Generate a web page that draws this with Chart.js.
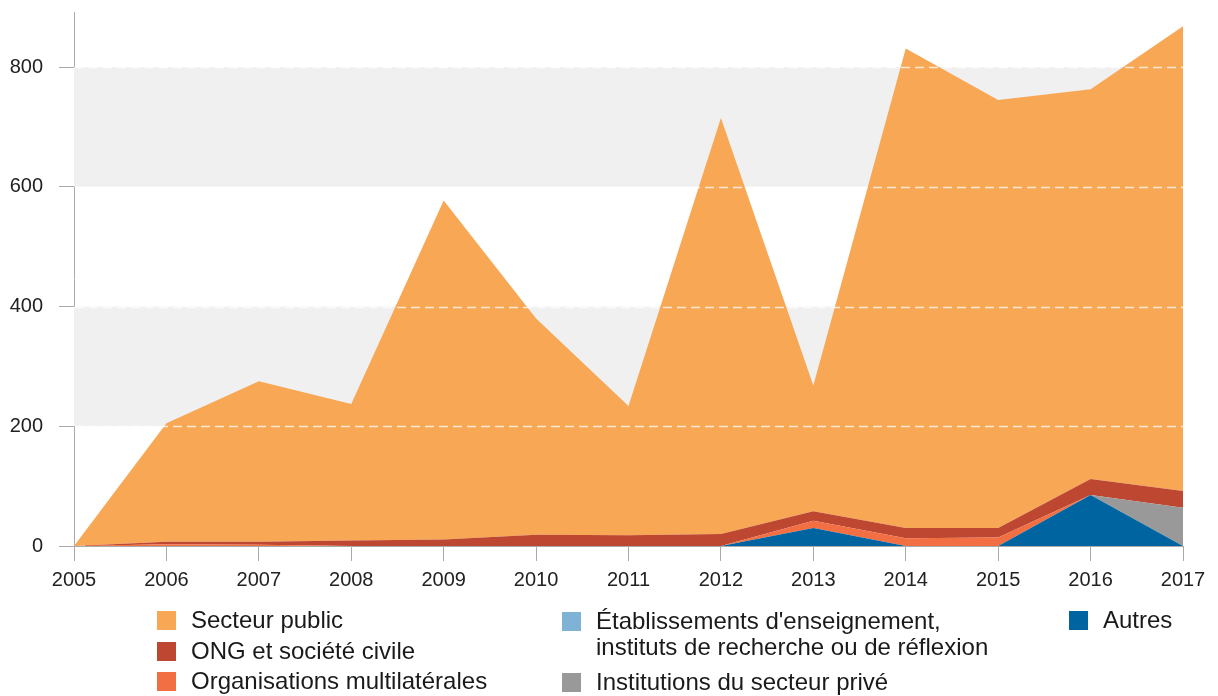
<!DOCTYPE html>
<html>
<head>
<meta charset="utf-8">
<script src="https://cdn.jsdelivr.net/npm/chart.js@4"></script>
<style>
  body { margin: 0; background: #fff; }
  #wrap { position: relative; width: 1218px; height: 696px; font-family: "Liberation Sans", Arial, sans-serif; color: #1a1a1a; }
  #myChart { position: absolute; left: 0; top: 0; }
  .sq { position: absolute; width: 19px; height: 19px; }
  .lb { position: absolute; font-size: 24px; line-height: 26px; white-space: nowrap; }
</style>
</head>
<body>
<div id="wrap">
  <canvas id="myChart" width="1218" height="696"></canvas>
  <div class="sq" style="left:157px;top:611px;background:#f8a755"></div>
  <div class="lb" style="left:191px;top:607px">Secteur public</div>
  <div class="sq" style="left:157px;top:642px;background:#bd4731"></div>
  <div class="lb" style="left:191px;top:638px">ONG et société civile</div>
  <div class="sq" style="left:157px;top:672px;background:#f26e43"></div>
  <div class="lb" style="left:191px;top:668px">Organisations multilatérales</div>
  <div class="sq" style="left:562px;top:612px;background:#7fb3d5"></div>
  <div class="lb" style="left:596px;top:608px">Établissements d'enseignement,<br>instituts de recherche ou de réflexion</div>
  <div class="sq" style="left:562px;top:673px;background:#999999"></div>
  <div class="lb" style="left:596px;top:669px">Institutions du secteur privé</div>
  <div class="sq" style="left:1069px;top:611px;background:#0064a1"></div>
  <div class="lb" style="left:1103px;top:607px">Autres</div>
</div>
<script>
const annees = ["2005", "2006", "2007", "2008", "2009", "2010", "2011", "2012", "2013", "2014", "2015", "2016", "2017"];
const autres = [0, 0, 0, 0, 0, 0, 0, 0, 30, 0, 0, 85, 0];
const prive = [0, 0, 0, 0, 0, 0, 0, 0, 0, 0, 0, 0, 64];
const etablissements = [0, 0, 0, 0, 0, 0, 0, 0, 0, 0, 0, 0, 0];
const multilaterales = [0, 3, 2, 0, 0, 0, 0, 0, 12, 13, 14, 0, 0];
const ong = [0, 4, 5, 9, 11, 19, 18, 20, 16, 17, 16, 27, 28];
const public_ = [0, 198, 268, 228, 566, 361, 216, 695, 210, 801, 715, 651, 776];
const graduations = [0, 200, 400, 600, 800];

const fond = {
  id: "fond",
  beforeDatasetsDraw(chart) {
    const { ctx, chartArea: a, scales: { y } } = chart;
    ctx.save();
    ctx.fillStyle = "#f0f0f0";
    [[200, 400], [600, 800]].forEach(([b, h]) => {
      const y1 = y.getPixelForValue(h), y2 = y.getPixelForValue(b);
      ctx.fillRect(a.left, y1, a.right - a.left, y2 - y1);
    });
    ctx.restore();
  },
  afterDatasetsDraw(chart) {
    const { ctx, chartArea: a, scales: { y } } = chart;
    ctx.save();
    ctx.strokeStyle = "rgba(255,255,255,0.75)";
    ctx.lineWidth = 1.5;
    ctx.setLineDash([9, 5]);
    graduations.slice(1).forEach(v => {
      const py = Math.round(y.getPixelForValue(v)) + 0.5;
      ctx.beginPath();
      ctx.moveTo(a.left + 1, py);
      ctx.lineTo(a.right, py);
      ctx.stroke();
    });
    ctx.restore();
  }
};

function serie(label, data, couleur, fill) {
  return { label, data, backgroundColor: couleur, borderColor: couleur, borderWidth: 0, pointRadius: 0, fill, tension: 0 };
}

const contexto = document.getElementById("myChart").getContext("2d");
const myChart = new Chart(contexto, {
  type: "line",
  data: {
    labels: annees,
    datasets: [
      serie("Autres", autres, "#0064a1", "origin"),
      serie("Institutions du secteur privé", prive, "#999999", "-1"),
      serie("Établissements d'enseignement, instituts de recherche ou de réflexion", etablissements, "#7fb3d5", "-1"),
      serie("Organisations multilatérales", multilaterales, "#f26e43", "-1"),
      serie("ONG et société civile", ong, "#bd4731", "-1"),
      serie("Secteur public", public_, "#f8a755", "-1"),
    ],
  },
  options: {
    responsive: false,
    animation: false,
    layout: { padding: { left: 0, right: 35, top: 12, bottom: 0 } },
    plugins: { legend: { display: false }, tooltip: { enabled: false } },
    scales: {
      x: {
        grid: { display: true, drawOnChartArea: false, drawTicks: true, tickLength: 15, color: "#aaaaaa" },
        border: { display: true, color: "#aaaaaa" },
        ticks: { color: "#222", font: { family: "Liberation Sans", size: 20 }, padding: 7, maxRotation: 0, autoSkip: false },
        afterFit(scale) { scale.height = 150; },
      },
      y: {
        stacked: true,
        min: 0,
        max: 892,
        grid: { display: true, drawOnChartArea: false, drawTicks: true, tickLength: 15, color: "#aaaaaa" },
        border: { display: true, color: "#aaaaaa" },
        ticks: { color: "#222", font: { family: "Liberation Sans", size: 20 }, padding: 16 },
        afterBuildTicks(scale) { scale.ticks = graduations.map(v => ({ value: v })); },
        afterFit(scale) { scale.width = 74; scale.paddingTop = 0; scale.paddingBottom = 0; },
      },
    },
  },
  plugins: [fond],
});
</script>
</body>
</html>
